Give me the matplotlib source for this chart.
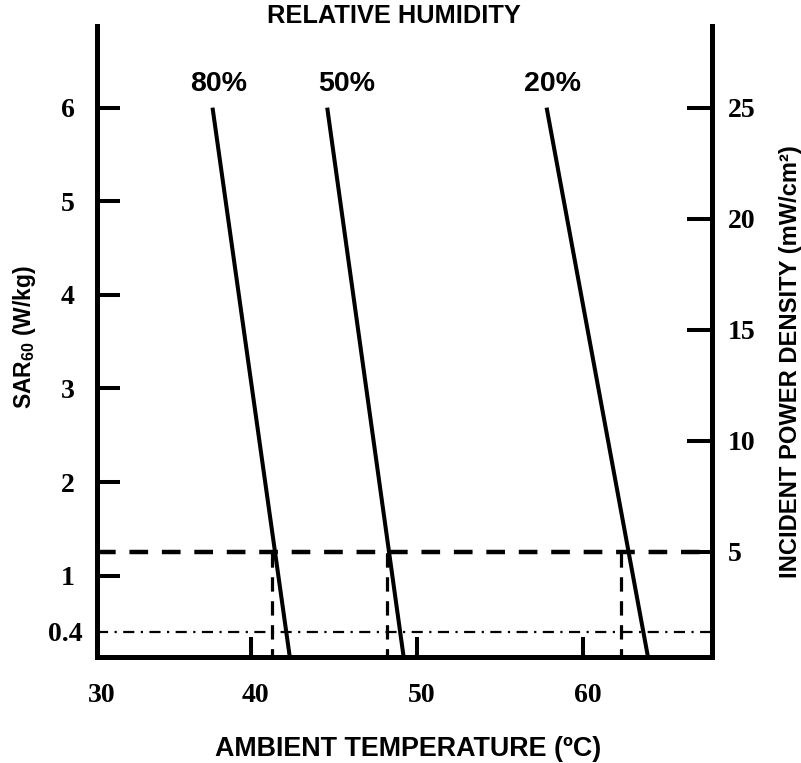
import numpy as np
import matplotlib.pyplot as plt
from matplotlib.transforms import ScaledTranslation

# Relative humidity lines: ambient temperature (deg C) at SAR60 = 6 W/kg
# and where each line meets the bottom axis
humidity = ['80%', '50%', '20%']
temp_top = [37.7, 44.6, 57.8]
temp_bottom = [42.35, 49.2, 63.9]
sar_ends = [6.0, 0.13]

# temperature where each humidity line crosses 5 mW/cm2
temp_at_limit = [41.25, 48.2, 62.3]

x_ticks = [40, 50, 60]
sar_ticks = [1, 2, 3, 4, 5, 6]
sar_limit = 0.4
pd_ticks = [5, 10, 15, 20, 25]
pd_limit = 5

SERIF = 'Liberation Serif'
SANS = 'Liberation Sans'

fig = plt.figure(figsize=(8.01, 7.63), dpi=100)
ax = fig.add_axes([97 / 801, 1 - 657 / 763, (712 - 97) / 801, (657 - 26) / 763])
ax2 = ax.twinx()

ax.set_xlim(30.75, 67.75)
ax.set_ylim(0.132, 6.872)
ax2.set_ylim(0.257, 28.68)

# humidity lines
for t0, t1 in zip(temp_top, temp_bottom):
    ax.plot([t0, t1], sar_ends, color='black', lw=2.9, solid_capstyle='butt')

# humidity labels above each line
label_dx = [4.2, 14.3, 4.0]
for name, t0, dx in zip(humidity, temp_top, label_dx):
    ax.annotate(name, xy=(t0, sar_ends[0]), xytext=(dx, 17.3),
                textcoords='offset points', ha='center', va='center',
                family=SANS, weight='bold', size=20.5)

# 5 mW/cm2 limit and drop lines to the temperature axis
ax2.axhline(pd_limit, color='black', lw=3.2, linestyle=(0, (4.2, 3.1)))
ax2.vlines(temp_at_limit, 0, pd_limit, color='black', lw=2.3,
           linestyles=[(0, (4.5, 3.0))])

# 0.4 W/kg line
ax.axhline(sar_limit, color='black', lw=1.6, linestyle=(0, (5, 2.9, 1, 2.9)))

# spines
for a in (ax, ax2):
    a.spines['top'].set_visible(False)
ax.spines['right'].set_visible(False)
ax2.spines['left'].set_visible(False)
ax2.spines['bottom'].set_visible(False)
ax.spines['left'].set_linewidth(3.6)
ax.spines['bottom'].set_linewidth(3.6)
ax2.spines['right'].set_linewidth(3.6)

# x ticks, 30 sits at the corner
ax.set_xticks([ax.get_xlim()[0]] + x_ticks, ['30'] + [str(v) for v in x_ticks])
ax.tick_params(axis='x', direction='in', length=14.5, width=2.9, pad=19)

# left axis
ax.set_yticks(sar_ticks, [str(v) for v in sar_ticks])
ax.set_yticks([sar_limit], [str(sar_limit)], minor=True)
ax.tick_params(axis='y', which='major', direction='in', length=16.5, width=2.9, pad=21)
ax.tick_params(axis='y', which='minor', direction='in', length=0, pad=23)
ax.tick_params(axis='x', which='minor', length=0)

# right axis
ax2.set_yticks(pd_ticks, [str(v) for v in pd_ticks])
ax2.tick_params(axis='y', direction='in', length=18, width=2.9, pad=11.5)

shift = ScaledTranslation(5 / 100, 0, fig.dpi_scale_trans)
for lab in ax.get_xticklabels():
    lab.set_fontfamily(SERIF)
    lab.set_fontweight('bold')
    lab.set_fontsize(20)
    lab.set_transform(lab.get_transform() + shift)
for lab in ax.get_yticklabels(which='both'):
    lab.set_fontfamily(SERIF)
    lab.set_fontweight('bold')
    lab.set_fontsize(20)
    lab.set_horizontalalignment('center')
for lab in ax2.get_yticklabels():
    lab.set_fontfamily(SERIF)
    lab.set_fontweight('bold')
    lab.set_fontsize(20)

# axis titles
fig.text(394 / 801, 1 - 16 / 763, 'RELATIVE HUMIDITY', ha='center', va='center',
         family=SANS, weight='bold', size=18.3)
fig.text(408 / 801, 1 - 749 / 763, 'AMBIENT TEMPERATURE (ºC)', ha='center', va='center',
         family=SANS, weight='bold', size=19.4)
fig.text(25 / 801, 1 - 337 / 763, r'SAR$_{\mathregular{60}}$ (W/kg)', ha='center',
         va='center', rotation=90, family=SANS, weight='bold', size=16.5)
fig.text(790 / 801, 1 - 362 / 763, 'INCIDENT POWER DENSITY (mW/cm²)', ha='center',
         va='center', rotation=90, family=SANS, weight='bold', size=17.1)

fig.savefig('out.png', dpi=100)
